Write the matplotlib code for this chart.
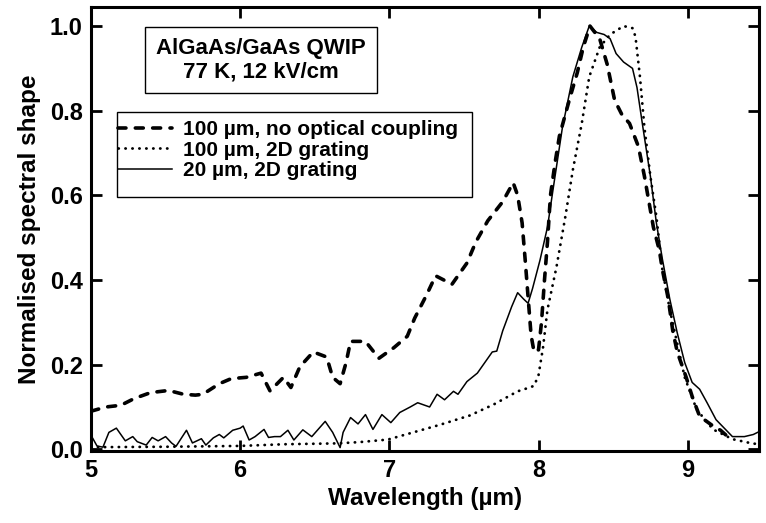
import matplotlib
matplotlib.use("Agg")
import matplotlib.pyplot as plt
from matplotlib.patches import Rectangle

# ── spectra (wavelength in µm, normalised response) ───────────────────────────
wl_nocoup = [5.00, 5.10, 5.20, 5.29, 5.40, 5.52, 5.62, 5.70, 5.75, 5.86, 5.94, 6.04,
             6.14, 6.20, 6.29, 6.34, 6.40, 6.49, 6.58, 6.62, 6.67, 6.71, 6.74, 6.84,
             6.93, 7.03, 7.12, 7.17, 7.25, 7.31, 7.42, 7.52, 7.58, 7.66, 7.76, 7.83,
             7.86, 7.89, 7.91, 7.93, 7.95, 7.97, 8.00, 8.02, 8.04, 8.06, 8.08, 8.11,
             8.14, 8.21, 8.26, 8.30, 8.345, 8.41, 8.46, 8.51, 8.56, 8.61, 8.67, 8.71,
             8.77, 8.81, 8.83, 8.87, 8.90, 8.93, 8.99, 9.03, 9.08, 9.17, 9.22, 9.30]
sp_nocoup = [0.090, 0.100, 0.104, 0.120, 0.134, 0.139, 0.130, 0.128, 0.130, 0.155, 0.167, 0.170,
             0.180, 0.138, 0.170, 0.146, 0.195, 0.230, 0.218, 0.170, 0.155, 0.205, 0.255, 0.255,
             0.215, 0.240, 0.267, 0.310, 0.365, 0.410, 0.390, 0.440, 0.490, 0.540, 0.585, 0.630,
             0.600, 0.535, 0.450, 0.360, 0.270, 0.230, 0.235, 0.300, 0.400, 0.490, 0.600, 0.675,
             0.740, 0.830, 0.890, 0.950, 1.000, 0.970, 0.910, 0.825, 0.790, 0.770, 0.715, 0.645,
             0.525, 0.470, 0.425, 0.355, 0.280, 0.230, 0.170, 0.125, 0.078, 0.055, 0.045, 0.020]

wl_grat100 = [5.00, 5.50, 6.00, 6.30, 6.65, 6.80, 6.99, 7.16, 7.34, 7.54, 7.70, 7.86,
              7.94, 7.97, 8.00, 8.03, 8.06, 8.09, 8.12, 8.18, 8.23, 8.29, 8.34, 8.41,
              8.48, 8.57, 8.63, 8.65, 8.68, 8.71, 8.75, 8.79, 8.83, 8.88, 8.93, 8.98,
              9.06, 9.17, 9.30, 9.43, 9.48]
sp_grat100 = [0.005, 0.006, 0.008, 0.012, 0.014, 0.017, 0.023, 0.040, 0.058, 0.080, 0.106, 0.137,
              0.146, 0.150, 0.175, 0.240, 0.330, 0.380, 0.430, 0.550, 0.660, 0.770, 0.880, 0.950,
              0.980, 1.000, 0.995, 0.975, 0.880, 0.760, 0.645, 0.550, 0.425, 0.330, 0.250, 0.170,
              0.094, 0.047, 0.024, 0.014, 0.012]

wl_grat20 = [5.00, 5.01, 5.04, 5.08, 5.12, 5.17, 5.23, 5.28, 5.31, 5.37, 5.41, 5.45,
             5.50, 5.54, 5.57, 5.64, 5.68, 5.74, 5.77, 5.82, 5.86, 5.89, 5.95, 6.00,
             6.02, 6.06, 6.10, 6.16, 6.19, 6.23, 6.27, 6.32, 6.36, 6.42, 6.48, 6.57,
             6.62, 6.67, 6.69, 6.74, 6.79, 6.84, 6.89, 6.95, 7.01, 7.07, 7.14, 7.19,
             7.27, 7.32, 7.37, 7.43, 7.46, 7.52, 7.59, 7.64, 7.69, 7.72, 7.76, 7.82,
             7.86, 7.90, 7.93, 7.96, 8.01, 8.06, 8.10, 8.16, 8.23, 8.29, 8.34, 8.39,
             8.44, 8.48, 8.52, 8.57, 8.63, 8.66, 8.70, 8.75, 8.79, 8.83, 8.88, 8.93,
             8.98, 9.03, 9.08, 9.13, 9.19, 9.30, 9.38, 9.44, 9.48]
sp_grat20 = [0.005, 0.027, 0.008, 0.005, 0.040, 0.050, 0.020, 0.030, 0.018, 0.010, 0.028, 0.020,
             0.030, 0.015, 0.007, 0.045, 0.015, 0.025, 0.010, 0.027, 0.035, 0.027, 0.045, 0.050,
             0.055, 0.022, 0.030, 0.047, 0.028, 0.030, 0.030, 0.045, 0.022, 0.046, 0.030, 0.066,
             0.040, 0.004, 0.040, 0.075, 0.060, 0.082, 0.047, 0.082, 0.063, 0.087, 0.100, 0.110,
             0.100, 0.130, 0.117, 0.137, 0.130, 0.160, 0.180, 0.205, 0.230, 0.232, 0.280, 0.337,
             0.370, 0.355, 0.345, 0.380, 0.447, 0.525, 0.620, 0.760, 0.880, 0.950, 1.000, 0.985,
             0.980, 0.970, 0.935, 0.915, 0.900, 0.855, 0.760, 0.645, 0.535, 0.450, 0.355, 0.275,
             0.205, 0.158, 0.142, 0.110, 0.070, 0.030, 0.030, 0.035, 0.042]

labels = ["100 µm, no optical coupling", "100 µm, 2D grating", "20 µm, 2D grating"]
x_ticks = [5, 6, 7, 8, 9]
y_ticks = [0.0, 0.2, 0.4, 0.6, 0.8, 1.0]

plt.rcParams['font.family'] = ['Liberation Sans', 'DejaVu Sans']
plt.rcParams['font.weight'] = 'bold'

fig = plt.figure(figsize=(7.66, 5.23), dpi=100)
ax = fig.add_axes([91 / 766, 72 / 523, 668 / 766, 444 / 523])

ax.plot(wl_nocoup, sp_nocoup, color='k', lw=2.6, dashes=(2.2, 2.6),
        dash_capstyle='round', label=labels[0])
ax.plot(wl_grat100, sp_grat100, color='k', lw=2.0, dashes=(0.1, 2.4),
        dash_capstyle='round', label=labels[1])
ax.plot(wl_grat20, sp_grat20, color='k', lw=1.1, label=labels[2])

ax.set_xlim(5, 9.478)
ax.set_ylim(-0.004, 1.045)
ax.set_xticks(x_ticks)
ax.set_yticks(y_ticks)
ax.set_xticklabels([str(v) for v in x_ticks])
ax.set_yticklabels([f"{v:.1f}" for v in y_ticks])
ax.tick_params(direction='in', top=True, right=True, length=8, width=2,
               labelsize=17, pad=6)
for s in ax.spines.values():
    s.set_linewidth(2.2)

ax.set_xlabel("Wavelength (µm)", fontsize=17.5, fontweight='bold', labelpad=3)
ax.set_ylabel("Normalised spectral shape", fontsize=17.5, fontweight='bold', labelpad=6)

ax.text(6.139, 0.92, "AlGaAs/GaAs QWIP\n77 K, 12 kV/cm", ha='center', va='center',
        fontsize=16, fontweight='bold', linespacing=1.15,
        bbox=dict(boxstyle='square,pad=0.5', facecolor='white', edgecolor='k', lw=1.0))

# legend frame drawn separately so the handles can sit flush with its left edge
ax.add_patch(Rectangle((0.039, 0.572), 0.531, 0.1915, transform=ax.transAxes,
                       facecolor='white', edgecolor='k', lw=1.0, zorder=4))
leg = ax.legend(loc='upper left', bbox_to_anchor=(0.0405, 0.745), frameon=False,
                handlelength=2.6, handletextpad=0.5, borderpad=0, labelspacing=0.07,
                prop={'size': 15, 'weight': 'bold'}, borderaxespad=0)
leg.set_zorder(5)

fig.savefig("out.png", dpi=100)
